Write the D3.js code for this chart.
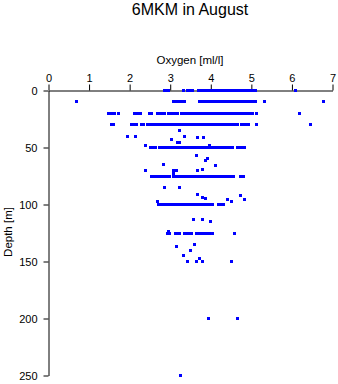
<!DOCTYPE html>
<html>
<head>
<meta charset="utf-8">
<script src="https://cdn.jsdelivr.net/npm/d3@7"></script>
<style>
  html, body { margin: 0; padding: 0; background: #fff; }
  svg { display: block; font-family: "Liberation Sans", Arial, Helvetica, sans-serif; }
</style>
</head>
<body>
<svg id="chart" width="338" height="384"></svg>
<script>
// Oxygen profile samples, grouped by standard sampling depth (m)
const levelDepths = [0, 10, 20, 30, 50, 75, 100, 125, 150, 200, 250];
const levelOxygen = [
  [2.85, 2.9, 2.97, 3.33, 3.43, 3.48, 3.55, 3.7, 3.75, 3.82, 3.87, 3.92, 3.98, 4.04, 4.1, 4.16, 4.22, 4.28, 4.34, 4.4, 4.46, 4.52, 4.58, 4.64, 4.7, 4.76, 4.82, 4.88, 4.94, 5.0, 5.06, 5.1, 6.1],
  [0.69, 3.09, 3.15, 3.21, 3.27, 3.34, 3.72, 3.78, 3.84, 3.9, 3.96, 4.02, 4.08, 4.14, 4.2, 4.26, 4.32, 4.38, 4.44, 4.5, 4.56, 4.62, 4.68, 4.74, 4.8, 4.86, 4.92, 4.98, 5.04, 5.1, 5.33, 6.79],
  [1.48, 1.55, 1.62, 1.72, 2.13, 2.2, 2.26, 2.48, 2.55, 2.68, 2.74, 2.8, 2.86, 2.96, 3.02, 3.08, 3.14, 3.18, 3.28, 3.34, 3.4, 3.46, 3.52, 3.6, 3.66, 3.72, 3.78, 3.84, 3.9, 3.96, 4.02, 4.08, 4.14, 4.2, 4.26, 4.32, 4.38, 4.44, 4.5, 4.56, 4.62, 4.68, 4.74, 4.8, 4.86, 4.92, 4.98, 5.04, 5.13, 6.19],
  [1.55, 1.61, 2.04, 2.1, 2.16, 2.29, 2.35, 2.44, 2.5, 2.56, 2.62, 2.68, 2.74, 2.8, 2.86, 2.91, 2.97, 3.03, 3.09, 3.16, 3.22, 3.28, 3.34, 3.4, 3.46, 3.52, 3.58, 3.64, 3.7, 3.76, 3.82, 3.88, 3.94, 4.0, 4.06, 4.12, 4.18, 4.24, 4.3, 4.36, 4.42, 4.48, 4.54, 4.6, 4.66, 4.76, 4.82, 4.88, 4.94, 5.13, 6.46],
  [2.51, 2.57, 2.63, 2.73, 2.79, 2.85, 2.91, 2.97, 3.03, 3.09, 3.15, 3.21, 3.27, 3.33, 3.39, 3.45, 3.51, 3.57, 3.63, 3.69, 3.75, 3.81, 3.87, 3.93, 3.99, 4.05, 4.11, 4.17, 4.23, 4.29, 4.35, 4.41, 4.47, 4.53, 4.65, 4.71, 4.77, 4.82],
  [2.55, 2.61, 2.67, 2.73, 2.79, 2.87, 2.93, 2.98, 3.07, 3.13, 3.19, 3.25, 3.31, 3.37, 3.43, 3.49, 3.55, 3.61, 3.67, 3.73, 3.79, 3.85, 3.91, 3.97, 4.03, 4.09, 4.15, 4.21, 4.27, 4.33, 4.39, 4.45, 4.51, 4.56, 4.74, 4.8],
  [2.72, 2.78, 2.84, 2.9, 2.97, 3.03, 3.09, 3.15, 3.21, 3.27, 3.33, 3.39, 3.45, 3.51, 3.57, 3.63, 3.69, 3.75, 3.81, 3.87, 3.93, 3.99, 4.05, 4.2, 4.26, 4.32],
  [2.94, 2.99, 3.14, 3.19, 3.24, 3.34, 3.43, 3.48, 3.52, 3.65, 3.7, 3.76, 3.82, 3.87, 3.93, 3.98, 4.03, 4.59],
  [3.43, 3.64, 3.8, 4.52],
  [3.95, 4.65],
  [3.26]
];

// Samples taken between the standard depths
const extraDepths = [35, 40.5, 40.5, 40.5, 41.5, 41.5, 43, 46, 46, 48, 48.5, 57, 60, 61.5, 65, 66, 69, 70.5, 70.5, 70.5, 70.5, 73, 85, 85, 91, 92.5, 94, 95, 95.5, 95.5, 97.5, 97.5, 113, 113, 114.5, 123.5, 135, 137, 140.5, 145, 147.5];
const extraOxygen = [3.24, 1.95, 2.14, 3.34, 3.68, 3.81, 3.02, 3.17, 3.23, 3.98, 2.4, 3.66, 3.92, 3.87, 2.84, 4.12, 3.8, 2.4, 3.09, 3.16, 3.68, 3.07, 2.85, 3.22, 3.68, 4.73, 3.79, 3.88, 4.4, 4.84, 2.69, 4.52, 3.58, 3.8, 4.0, 2.97, 3.61, 3.16, 3.51, 3.32, 3.73];

const xTicks = [0, 1, 2, 3, 4, 5, 6, 7];
const yTicks = [0, 50, 100, 150, 200, 250];

const points = [];
levelDepths.forEach((d, i) => levelOxygen[i].forEach(o => points.push({ depth: d, oxygen: o })));
extraDepths.forEach((d, i) => points.push({ depth: d, oxygen: extraOxygen[i] }));

const svg = d3.select("#chart");
const x = d3.scaleLinear().domain([0, 7]).range([48, 332]);
const y = d3.scaleLinear().domain([0, 250]).range([90, 375]);

// Title
svg.append("text")
  .attr("x", 190).attr("y", 15)
  .attr("text-anchor", "middle")
  .attr("font-size", 16)
  .attr("fill", "#000")
  .text("6MKM in August");

// Top oxygen axis
const xAxis = svg.append("g")
  .attr("transform", "translate(0.5,90.5)")
  .call(d3.axisTop(x).tickValues(xTicks).tickSize(6).tickPadding(3).tickSizeOuter(0).tickFormat(d3.format("d")));

// Left depth axis
const yAxis = svg.append("g")
  .attr("transform", "translate(48.5,0.5)")
  .call(d3.axisLeft(y).tickValues(yTicks).tickSize(5).tickPadding(6).tickSizeOuter(0).tickFormat(d3.format("d")));

[xAxis, yAxis].forEach(g => {
  g.attr("font-family", null).attr("font-size", 11);
  g.selectAll("path.domain").attr("stroke", "#000").attr("stroke-width", 1);
  g.selectAll(".tick line").attr("stroke", "#000");
  g.selectAll(".tick text").attr("fill", "#000");
});

// Axis titles
svg.append("text")
  .attr("x", 190).attr("y", 64)
  .attr("text-anchor", "middle")
  .attr("font-size", 11.5)
  .attr("fill", "#000")
  .text("Oxygen [ml/l]");

svg.append("text")
  .attr("transform", "translate(12,232) rotate(-90)")
  .attr("text-anchor", "middle")
  .attr("font-size", 11.5)
  .attr("fill", "#000")
  .text("Depth [m]");

// Sample markers
svg.append("g")
  .attr("fill", "#0000ff")
  .attr("shape-rendering", "crispEdges")
  .selectAll("rect")
  .data(points)
  .join("rect")
  .attr("x", d => Math.round(x(d.oxygen)) - 1)
  .attr("y", d => Math.round(y(d.depth)) - 1)
  .attr("width", 3)
  .attr("height", 3);
</script>
</body>
</html>
